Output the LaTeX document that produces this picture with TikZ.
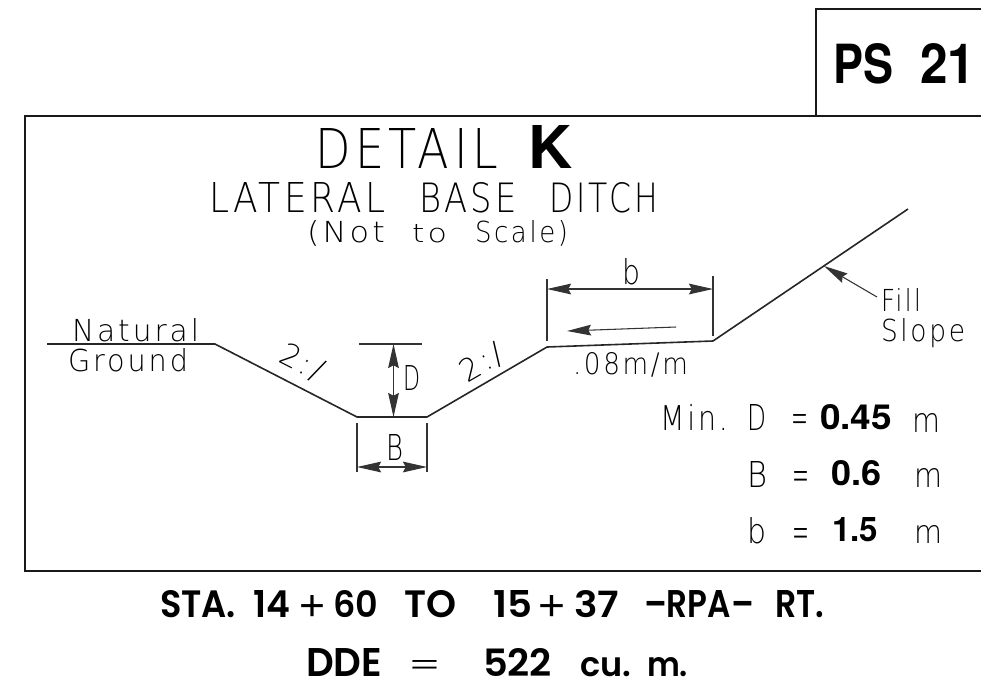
\documentclass[tikz,border=0pt]{standalone}
\usepackage{fontspec}
\usepackage{graphicx}
\setmainfont{Liberation Sans}
\newfontfamily\cadfont[LetterSpace=10]{DejaVu Sans ExtraLight}
\newfontfamily\boldfont{TeX Gyre Heros Bold}
\newfontfamily\botfont{Poppins SemiBold}
\usetikzlibrary{arrows.meta}
% fit text to a width and a height in reference pixels
\newcommand{\fitbox}[3]{\resizebox{#1\dimexpr 0.75pt\relax}{#2\dimexpr 0.75pt\relax}{#3}}
\tikzset{
  x=0.75pt,y=-0.75pt,
  lab/.style={inner sep=0pt,outer sep=0pt,anchor=base west,font=\cadfont\fontsize{20}{24}\selectfont},
  blab/.style={inner sep=0pt,outer sep=0pt,anchor=base west,font=\boldfont\fontsize{20}{24}\selectfont},
  dlab/.style={inner sep=0pt,outer sep=0pt,anchor=base west,font=\botfont\fontsize{20}{24}\selectfont},
  frameline/.style={line width=1.5pt,black!90},
  ground/.style={line width=1.2pt,black!85,line join=round},
  thinl/.style={line width=0.8pt,black!80},
  dim/.style={thinl,{Stealth[length=18pt,width=8pt,inset=2pt]}-{Stealth[length=18pt,width=8pt,inset=2pt]}},
  lead/.style={thinl,-{Stealth[length=18pt,width=8pt,inset=2pt]}},
}
\begin{document}
\begin{tikzpicture}
\useasboundingbox (0,0) rectangle (981,697);
% frames
\coordinate (fa) at (981,116); \coordinate (fb) at (25,116);
\coordinate (fc) at (25,571); \coordinate (fd) at (981,571);
\draw[frameline] (fa) -- (fb) -- (fc) -- (fd);
\coordinate (ba) at (816,116); \coordinate (bb) at (816,9); \coordinate (bc) at (981,9);
\draw[frameline] (ba) -- (bb) -- (bc);
\node[blab] (ps) at (833,83) {\fitbox{60}{40}{PS}};
\node[blab] (num) at (920,83) {\fitbox{55}{40}{21}};
% titles
\node[lab] (t1) at (315,168) {\fitbox{183}{40}{DETAIL}};
\node[blab] (t2) at (528,168) {\fitbox{44}{43}{K}};
\node[lab] (t3a) at (209,212) {\fitbox{177}{30}{LATERAL}};
\node[lab] (t3b) at (419,212) {\fitbox{98}{30}{BASE}};
\node[lab] (t3c) at (549,212) {\fitbox{109}{30}{DITCH}};
\node[lab] (t4a) at (307,242) {\fitbox{78}{22}{(Not}};
\node[lab] (t4b) at (412,242) {\fitbox{35}{18}{to}};
\node[lab] (t4c) at (475,242) {\fitbox{93}{22}{Scale)}};
% ground
\coordinate (g0) at (47,344); \coordinate (g1) at (215,344);
\coordinate (g2) at (357,417); \coordinate (g3) at (427,417);
\coordinate (g4) at (547,347); \coordinate (g5) at (713,341);
\coordinate (g6) at (908,209);
\draw[ground] (g0) -- (g1) -- (g2) -- (g3) -- (g4) -- (g5) -- (g6);
% natural ground
\node[lab] (n1) at (72,341) {\fitbox{127}{23}{Natural}};
\node[lab] (n2) at (68,371) {\fitbox{120}{23}{Ground}};
% slopes
\node[lab,rotate=-27] (s1) at (277,361) {\fitbox{46}{23}{2:/}};
\node[lab,rotate=30] (s2) at (467,383) {\fitbox{46}{23}{2:/}};
% D
\coordinate (d1) at (359,344); \coordinate (d2) at (422,344);
\coordinate (d3) at (393.5,344); \coordinate (d4) at (393.5,417);
\draw[thinl] (d1) -- (d2);
\draw[dim] (d3) -- (d4);
\node[lab] (dl) at (403,390) {\fitbox{17}{25}{D}};
% B
\coordinate (b1) at (357,423); \coordinate (b2) at (357,472);
\coordinate (b3) at (427,423); \coordinate (b4) at (427,472);
\coordinate (b5) at (357,467); \coordinate (b6) at (427,467);
\draw[thinl] (b1) -- (b2) (b3) -- (b4);
\draw[dim] (b5) -- (b6);
\node[lab] (bl) at (386,460) {\fitbox{17}{26}{B}};
% b
\coordinate (c1) at (547,279); \coordinate (c2) at (547,341);
\coordinate (c3) at (713,276); \coordinate (c4) at (713,336);
\coordinate (c5) at (547,289); \coordinate (c6) at (713,289);
\draw[thinl] (c1) -- (c2) (c3) -- (c4);
\draw[dim] (c5) -- (c6);
\node[lab] (cl) at (622,284) {\fitbox{18}{26}{b}};
% grade
\coordinate (e1) at (676,327); \coordinate (e2) at (567,331);
\draw[lead] (e1) -- (e2);
\node[lab] (gr) at (573,374) {\fitbox{115}{22}{.08m/m}};
% fill slope
\coordinate (f1) at (877,297); \coordinate (f2) at (824,266);
\draw[lead] (f1) -- (f2);
\node[lab] (fi) at (881,311) {\fitbox{40}{23}{Fill}};
\node[lab] (sl) at (881,341) {\fitbox{84}{23}{Slope}};
% values
\node[lab] (v1a) at (660,430) {\fitbox{68}{26}{Min.}};
\node[lab] (v1b) at (747,430) {\fitbox{19}{26}{D}};
\node[lab] (v2) at (791,433) {\fitbox{17}{19}{=}};
\node[blab] (v3) at (820,429) {\fitbox{72}{25}{0.45}};
\node[lab] (v4) at (912,432) {\fitbox{28}{19}{m}};
\node[lab] (v5) at (747,487) {\fitbox{20}{26}{B}};
\node[lab] (v6) at (792,491) {\fitbox{17}{20}{=}};
\node[blab] (v7) at (831,485) {\fitbox{50}{25}{0.6}};
\node[lab] (v8) at (914,487) {\fitbox{28}{19}{m}};
\node[lab] (v9) at (747,543) {\fitbox{19}{26}{b}};
\node[lab] (v10) at (792,548) {\fitbox{17}{20}{=}};
\node[blab] (v11) at (832,541) {\fitbox{46}{24}{1.5}};
\node[lab] (v12) at (914,543) {\fitbox{28}{18}{m}};
% bottom lines
\node[dlab] (l1a) at (160,617) {\fitbox{76}{27}{STA.}};
\node[dlab] (l1b) at (253,617) {\fitbox{37}{27}{14}};
\node[dlab] (l1c) at (299,620) {\fitbox{26}{25}{\normalfont +}};
\node[dlab] (l1d) at (333,617) {\fitbox{45}{27}{60}};
\node[dlab] (l2) at (404,617) {\fitbox{52}{27}{TO}};
\node[dlab] (l3a) at (493,617) {\fitbox{39}{27}{15}};
\node[dlab] (l3b) at (538,620) {\fitbox{27}{25}{\normalfont +}};
\node[dlab] (l3c) at (574,617) {\fitbox{45}{27}{37}};
\node[dlab] (l4) at (644,617) {\fitbox{110}{27}{–RPA–}};
\node[dlab] (l5) at (775,617) {\fitbox{49}{27}{RT.}};
\node[dlab] (m1) at (306,676) {\fitbox{76}{28}{DDE}};
\node[lab] (m2) at (410,673) {\fitbox{29}{13}{\normalfont =}};
\node[dlab] (m3) at (483,676) {\fitbox{69}{28}{522}};
\node[dlab] (m4) at (580,676) {\fitbox{51}{19}{cu.}};
\node[dlab] (m5) at (647,676) {\fitbox{41}{19}{m.}};
\end{tikzpicture}
\end{document}
